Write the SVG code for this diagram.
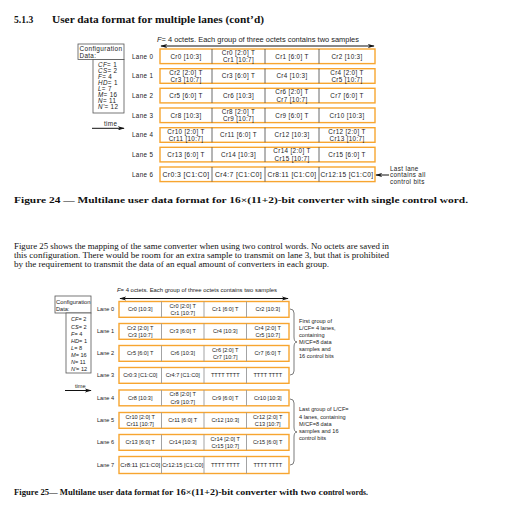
<svg xmlns="http://www.w3.org/2000/svg" width="506" height="508" viewBox="0 0 506 508">
<style>
.sec{font-family:"Liberation Serif","Times New Roman",serif;font-weight:bold;font-size:9.6px;fill:#111}
.cap{font-family:"Liberation Serif","Times New Roman",serif;font-weight:bold;font-size:9.2px;fill:#111}
.para{font-family:"Liberation Serif","Times New Roman",serif;font-size:7.4px;fill:#111}
.a{font-family:"Liberation Sans",Arial,sans-serif;font-size:6.3px;letter-spacing:0.35px;fill:#222}
.b{font-family:"Liberation Sans",Arial,sans-serif;font-size:5.6px;fill:#222}
.m{text-anchor:middle}
.ob{fill:#fff;stroke:#f7a530;stroke-width:1.4}
.d24{stroke:#444;stroke-width:0.8}
.d25{stroke:#999;stroke-width:0.9}
.cfg{fill:#fff;stroke:#555;stroke-width:0.8}
.ln{stroke:#111;stroke-width:1;fill:none}
.br{stroke:#444;stroke-width:0.7;fill:none}
.i{font-style:italic}
</style>
<defs>
<marker id="ah" viewBox="0 0 10 6" refX="9" refY="3" markerWidth="7" markerHeight="4.2" orient="auto-start-reverse" markerUnits="userSpaceOnUse">
<path d="M0,0 L10,3 L0,6 L3,3 Z" fill="#111"/>
</marker>
</defs>
<rect width="506" height="508" fill="#fff"/>

<text class="sec" x="14" y="23">5.1.3</text>
<text class="sec" x="52" y="23" textLength="212" lengthAdjust="spacingAndGlyphs">User data format for multiple lanes (cont’d)</text>

<!-- Figure 24 -->
<g id="fig24-header">
<text class="a" x="157" y="42" textLength="202" lengthAdjust="spacingAndGlyphs" style="letter-spacing:0"><tspan class="i">F</tspan>= 4 octets. Each group of three octets contains two samples</text>
</g>
<g id="fig24-config">
<rect class="cfg" x="78" y="44" width="46" height="15.5"/>
<text class="a" x="79.5" y="51.3" textLength="43" lengthAdjust="spacingAndGlyphs">Configuration</text>
<text class="a" x="79.5" y="58">Data:</text>
<rect class="cfg" x="93" y="59.5" width="31" height="53.5"/>
<text class="a" x="98" y="66.6"><tspan class="i">CF</tspan>= 1</text>
<text class="a" x="98" y="72.6"><tspan class="i">CS</tspan>= 2</text>
<text class="a" x="98" y="78.6"><tspan class="i">F</tspan>= 4</text>
<text class="a" x="98" y="84.6"><tspan class="i">HD</tspan>= 1</text>
<text class="a" x="98" y="91.2"><tspan class="i">L</tspan>= 7</text>
<text class="a" x="98" y="97.3"><tspan class="i">M</tspan>= 16</text>
<text class="a" x="98" y="103.3"><tspan class="i">N</tspan>= 11</text>
<text class="a" x="98" y="109.3"><tspan class="i">N'</tspan>= 12</text>
</g>
<g id="fig24-time">
<text class="a" x="104" y="126">time</text>
</g>

<g id="fig24-lane0">
<text class="a" x="132" y="58.5">Lane 0</text>
<rect class="ob" x="160" y="49" width="215" height="14.6"/>
<line class="d24" x1="212" y1="49" x2="212" y2="63.6"/><line class="d24" x1="265" y1="49" x2="265" y2="63.6"/><line class="d24" x1="319" y1="49" x2="319" y2="63.6"/>
<text class="a m" x="186" y="58.5">Cr0 [10:3]</text>
<text class="a m" x="238.5" y="54.8">Cr0 [2:0] T</text><text class="a m" x="238.5" y="62.2">Cr1 [10:7]</text>
<text class="a m" x="292" y="58.5">Cr1 [6:0] T</text>
<text class="a m" x="347" y="58.5">Cr2 [10:3]</text>
</g>
<g id="fig24-lane1">
<text class="a" x="132" y="78.2">Lane 1</text>
<rect class="ob" x="160" y="68.7" width="215" height="14.6"/>
<line class="d24" x1="212" y1="68.7" x2="212" y2="83.3"/><line class="d24" x1="265" y1="68.7" x2="265" y2="83.3"/><line class="d24" x1="319" y1="68.7" x2="319" y2="83.3"/>
<text class="a m" x="186" y="74.5">Cr2 [2:0] T</text><text class="a m" x="186" y="81.9">Cr3 [10:7]</text>
<text class="a m" x="238.5" y="78.2">Cr3 [6:0] T</text>
<text class="a m" x="292" y="78.2">Cr4 [10:3]</text>
<text class="a m" x="347" y="74.5">Cr4 [2:0] T</text><text class="a m" x="347" y="81.9">Cr5 [10:7]</text>
</g>
<g id="fig24-lane2">
<text class="a" x="132" y="97.8">Lane 2</text>
<rect class="ob" x="160" y="88.3" width="215" height="14.6"/>
<line class="d24" x1="212" y1="88.3" x2="212" y2="102.9"/><line class="d24" x1="265" y1="88.3" x2="265" y2="102.9"/><line class="d24" x1="319" y1="88.3" x2="319" y2="102.9"/>
<text class="a m" x="186" y="97.8">Cr5 [6:0] T</text>
<text class="a m" x="238.5" y="97.8">Cr6 [10:3]</text>
<text class="a m" x="292" y="94.1">Cr6 [2:0] T</text><text class="a m" x="292" y="101.5">Cr7 [10:7]</text>
<text class="a m" x="347" y="97.8">Cr7 [6:0] T</text>
</g>
<g id="fig24-lane3">
<text class="a" x="132" y="117.5">Lane 3</text>
<rect class="ob" x="160" y="108" width="215" height="14.6"/>
<line class="d24" x1="212" y1="108" x2="212" y2="122.6"/><line class="d24" x1="265" y1="108" x2="265" y2="122.6"/><line class="d24" x1="319" y1="108" x2="319" y2="122.6"/>
<text class="a m" x="186" y="117.5">Cr8 [10:3]</text>
<text class="a m" x="238.5" y="113.8">Cr8 [2:0] T</text><text class="a m" x="238.5" y="121.2">Cr9 [10:7]</text>
<text class="a m" x="292" y="117.5">Cr9 [6:0] T</text>
<text class="a m" x="347" y="117.5">Cr10 [10:3]</text>
</g>
<g id="fig24-lane4">
<text class="a" x="132" y="137.2">Lane 4</text>
<rect class="ob" x="160" y="127.7" width="215" height="14.6"/>
<line class="d24" x1="212" y1="127.7" x2="212" y2="142.3"/><line class="d24" x1="265" y1="127.7" x2="265" y2="142.3"/><line class="d24" x1="319" y1="127.7" x2="319" y2="142.3"/>
<text class="a m" x="186" y="133.5">Cr10 [2:0] T</text><text class="a m" x="186" y="140.9">Cr11 [10:7]</text>
<text class="a m" x="238.5" y="137.2">Cr11 [6:0] T</text>
<text class="a m" x="292" y="137.2">Cr12 [10:3]</text>
<text class="a m" x="347" y="133.5">Cr12 [2:0] T</text><text class="a m" x="347" y="140.9">Cr13 [10:7]</text>
</g>
<g id="fig24-lane5">
<text class="a" x="132" y="156.8">Lane 5</text>
<rect class="ob" x="160" y="147.3" width="215" height="14.6"/>
<line class="d24" x1="212" y1="147.3" x2="212" y2="161.9"/><line class="d24" x1="265" y1="147.3" x2="265" y2="161.9"/><line class="d24" x1="319" y1="147.3" x2="319" y2="161.9"/>
<text class="a m" x="186" y="156.8">Cr13 [6:0] T</text>
<text class="a m" x="238.5" y="156.8">Cr14 [10:3]</text>
<text class="a m" x="292" y="153.1">Cr14 [2:0] T</text><text class="a m" x="292" y="160.5">Cr15 [10:7]</text>
<text class="a m" x="347" y="156.8">Cr15 [6:0] T</text>
</g>
<g id="fig24-lane6">
<text class="a" x="132" y="176.5">Lane 6</text>
<rect class="ob" x="160" y="167" width="215" height="14.6"/>
<line class="d24" x1="212" y1="167" x2="212" y2="181.6"/><line class="d24" x1="265" y1="167" x2="265" y2="181.6"/><line class="d24" x1="319" y1="167" x2="319" y2="181.6"/>
<text class="a m" x="186" y="176.5" textLength="47" lengthAdjust="spacingAndGlyphs">Cr0:3 [C1:C0]</text>
<text class="a m" x="238.5" y="176.5" textLength="47" lengthAdjust="spacingAndGlyphs">Cr4:7 [C1:C0]</text>
<text class="a m" x="292" y="176.5" textLength="49" lengthAdjust="spacingAndGlyphs">Cr8:11 [C1:C0]</text>
<text class="a m" x="347" y="176.5" textLength="53" lengthAdjust="spacingAndGlyphs">Cr12:15 [C1:C0]</text>
</g>
<g id="fig24-note">
<text class="a" x="390" y="170.5">Last  lane</text>
<text class="a" x="390" y="177">contains all</text>
<text class="a" x="390" y="183.5">control bits</text>
</g>

<g id="connectors">
<line class="ln" x1="161" y1="46" x2="374" y2="46" marker-start="url(#ah)" marker-end="url(#ah)"/>
<line class="ln" x1="92" y1="128.3" x2="124" y2="128.3" marker-end="url(#ah)"/>
<line class="ln" x1="389" y1="175" x2="376" y2="175" marker-end="url(#ah)"/>
<line class="ln" x1="120" y1="298.5" x2="288" y2="298.5" marker-start="url(#ah)" marker-end="url(#ah)"/>
<line class="ln" x1="65" y1="390.5" x2="91" y2="390.5" marker-end="url(#ah)"/>
<path class="br" d="M290,309 q4,0 4,4 v24 q0,5 3,5 q-3,0 -3,5 v24 q0,4 -4,4"/>
<path class="br" d="M290,399 q4,0 4,4 v24 q0,5 3,5 q-3,0 -3,5 v24 q0,4 -4,4"/>
</g>

<text class="cap" x="14" y="203" textLength="454" lengthAdjust="spacingAndGlyphs">Figure 24 — Multilane user data format for 16×(11+2)-bit converter with single control word.</text>

<text class="para" x="14" y="249" textLength="375" lengthAdjust="spacingAndGlyphs">Figure 25 shows the mapping of the same converter when using two control words. No octets are saved in</text>
<text class="para" x="14" y="258" textLength="375" lengthAdjust="spacingAndGlyphs">this configuration. There would be room for an extra sample to transmit on lane 3, but that is prohibited</text>
<text class="para" x="14" y="267" textLength="315" lengthAdjust="spacingAndGlyphs">by the requirement to transmit the data of an equal amount of converters in each group.</text>

<!-- Figure 25 -->
<g id="fig25-header">
<text class="b" x="117" y="292" textLength="160" lengthAdjust="spacingAndGlyphs"><tspan class="i">F</tspan>= 4 octets. Each group of three octets contains two samples</text>
</g>
<g id="fig25-config">
<rect class="cfg" x="55" y="296" width="36" height="17"/>
<text class="b" x="56" y="304" textLength="34.5" lengthAdjust="spacingAndGlyphs">Configuration</text>
<text class="b" x="56" y="311">Data:</text>
<rect class="cfg" x="66" y="313" width="25" height="60"/>
<text class="b" x="71" y="321"><tspan class="i">CF</tspan>= 2</text>
<text class="b" x="71" y="328.7"><tspan class="i">CS</tspan>= 2</text>
<text class="b" x="71" y="336"><tspan class="i">F</tspan>= 4</text>
<text class="b" x="71" y="343"><tspan class="i">HD</tspan>= 1</text>
<text class="b" x="71" y="350"><tspan class="i">L</tspan>= 8</text>
<text class="b" x="71" y="357"><tspan class="i">M</tspan>= 16</text>
<text class="b" x="71" y="364"><tspan class="i">N</tspan>= 11</text>
<text class="b" x="71" y="370.5"><tspan class="i">N'</tspan>= 12</text>
</g>
<g id="fig25-time">
<text class="b" x="75" y="387.5">time</text>
</g>

<g id="fig25-lane0">
<text class="b" x="97" y="311.4">Lane 0</text>
<rect class="ob" x="119" y="301.5" width="170" height="15.8"/>
<line class="d25" x1="161.5" y1="301.5" x2="161.5" y2="317.3"/><line class="d25" x1="204" y1="301.5" x2="204" y2="317.3"/><line class="d25" x1="246.5" y1="301.5" x2="246.5" y2="317.3"/>
<text class="b m" x="140.25" y="311.4">Cr0 [10:3]</text>
<text class="b m" x="182.75" y="307.8">Cr0 [2:0] T</text><text class="b m" x="182.75" y="315">Cr1 [10:7]</text>
<text class="b m" x="225.25" y="311.4">Cr1 [6:0] T</text>
<text class="b m" x="267.75" y="311.4">Cr2 [10:3]</text>
</g>
<g id="fig25-lane1">
<text class="b" x="97" y="333.4">Lane 1</text>
<rect class="ob" x="119" y="323.5" width="170" height="15.8"/>
<line class="d25" x1="161.5" y1="323.5" x2="161.5" y2="339.3"/><line class="d25" x1="204" y1="323.5" x2="204" y2="339.3"/><line class="d25" x1="246.5" y1="323.5" x2="246.5" y2="339.3"/>
<text class="b m" x="140.25" y="329.8">Cr2 [2:0] T</text><text class="b m" x="140.25" y="337">Cr3 [10:7]</text>
<text class="b m" x="182.75" y="333.4">Cr3 [6:0] T</text>
<text class="b m" x="225.25" y="333.4">Cr4 [10:3]</text>
<text class="b m" x="267.75" y="329.8">Cr4 [2:0] T</text><text class="b m" x="267.75" y="337">Cr5 [10:7]</text>
</g>
<g id="fig25-lane2">
<text class="b" x="97" y="355.4">Lane 2</text>
<rect class="ob" x="119" y="345.5" width="170" height="15.8"/>
<line class="d25" x1="161.5" y1="345.5" x2="161.5" y2="361.3"/><line class="d25" x1="204" y1="345.5" x2="204" y2="361.3"/><line class="d25" x1="246.5" y1="345.5" x2="246.5" y2="361.3"/>
<text class="b m" x="140.25" y="355.4">Cr5 [6:0] T</text>
<text class="b m" x="182.75" y="355.4">Cr6 [10:3]</text>
<text class="b m" x="225.25" y="351.8">Cr6 [2:0] T</text><text class="b m" x="225.25" y="359">Cr7 [10:7]</text>
<text class="b m" x="267.75" y="355.4">Cr7 [6:0] T</text>
</g>
<g id="fig25-lane3">
<text class="b" x="97" y="377.4">Lane 3</text>
<rect class="ob" x="119" y="367.5" width="170" height="15.8"/>
<line class="d25" x1="161.5" y1="367.5" x2="161.5" y2="383.3"/><line class="d25" x1="204" y1="367.5" x2="204" y2="383.3"/><line class="d25" x1="246.5" y1="367.5" x2="246.5" y2="383.3"/>
<text class="b m" x="140.25" y="377.4">Cr0:3 [C1:C0]</text>
<text class="b m" x="182.75" y="377.4">Cr4:7 [C1:C0]</text>
<text class="b m" x="225.25" y="377.4">TTTT TTTT</text>
<text class="b m" x="267.75" y="377.4">TTTT TTTT</text>
</g>
<g id="fig25-lane4">
<text class="b" x="97" y="399.9">Lane 4</text>
<rect class="ob" x="119" y="390" width="170" height="15.8"/>
<line class="d25" x1="161.5" y1="390" x2="161.5" y2="405.8"/><line class="d25" x1="204" y1="390" x2="204" y2="405.8"/><line class="d25" x1="246.5" y1="390" x2="246.5" y2="405.8"/>
<text class="b m" x="140.25" y="399.9">Cr8 [10:3]</text>
<text class="b m" x="182.75" y="396.3">Cr8 [2:0] T</text><text class="b m" x="182.75" y="403.5">Cr9 [10:7]</text>
<text class="b m" x="225.25" y="399.9">Cr9 [6:0] T</text>
<text class="b m" x="267.75" y="399.9">Cr10 [10:3]</text>
</g>
<g id="fig25-lane5">
<text class="b" x="97" y="422.4">Lane 5</text>
<rect class="ob" x="119" y="412.5" width="170" height="15.8"/>
<line class="d25" x1="161.5" y1="412.5" x2="161.5" y2="428.3"/><line class="d25" x1="204" y1="412.5" x2="204" y2="428.3"/><line class="d25" x1="246.5" y1="412.5" x2="246.5" y2="428.3"/>
<text class="b m" x="140.25" y="418.8">Cr10 [2:0] T</text><text class="b m" x="140.25" y="426">Cr11 [10:7]</text>
<text class="b m" x="182.75" y="422.4">Cr11 [6:0] T</text>
<text class="b m" x="225.25" y="422.4">Cr12 [10:3]</text>
<text class="b m" x="267.75" y="418.8">Cr12 [2:0] T</text><text class="b m" x="267.75" y="426">C13 [10:7]</text>
</g>
<g id="fig25-lane6">
<text class="b" x="97" y="444.4">Lane 6</text>
<rect class="ob" x="119" y="434.5" width="170" height="15.8"/>
<line class="d25" x1="161.5" y1="434.5" x2="161.5" y2="450.3"/><line class="d25" x1="204" y1="434.5" x2="204" y2="450.3"/><line class="d25" x1="246.5" y1="434.5" x2="246.5" y2="450.3"/>
<text class="b m" x="140.25" y="444.4">Cr13 [6:0] T</text>
<text class="b m" x="182.75" y="444.4">Cr14 [10:3]</text>
<text class="b m" x="225.25" y="440.8">Cr14 [2:0] T</text><text class="b m" x="225.25" y="448">Cr15 [10:7]</text>
<text class="b m" x="267.75" y="444.4">Cr15 [6:0] T</text>
</g>
<g id="fig25-lane7">
<text class="b" x="97" y="467">Lane 7</text>
<rect class="ob" x="119" y="456.5" width="170" height="17"/>
<line class="d25" x1="161.5" y1="456.5" x2="161.5" y2="473.5"/><line class="d25" x1="204" y1="456.5" x2="204" y2="473.5"/><line class="d25" x1="246.5" y1="456.5" x2="246.5" y2="473.5"/>
<text class="b m" x="140.25" y="467" textLength="40" lengthAdjust="spacingAndGlyphs">Cr8:11 [C1:C0]</text>
<text class="b m" x="182.75" y="467" textLength="41" lengthAdjust="spacingAndGlyphs">Cr12:15 [C1:C0]</text>
<text class="b m" x="225.25" y="467">TTTT TTTT</text>
<text class="b m" x="267.75" y="467">TTTT TTTT</text>
</g>
<g id="fig25-note1">
<text class="b" x="299" y="322.7">First group of</text>
<text class="b" x="299" y="329.7">L/CF= 4 lanes,</text>
<text class="b" x="299" y="336.5">containing</text>
<text class="b" x="299" y="343.7">M/CF=8 data</text>
<text class="b" x="299" y="351">samples and</text>
<text class="b" x="299" y="358">16 control bits</text>
</g>
<g id="fig25-note2">
<text class="b" x="299" y="411.3">Last  group of L/CF=</text>
<text class="b" x="299" y="418.8">4 lanes, containing</text>
<text class="b" x="299" y="426">M/CF=8 data</text>
<text class="b" x="299" y="433.3">samples and 16</text>
<text class="b" x="299" y="440.3">control bits</text>
</g>

<text class="cap" x="14" y="495" textLength="155" lengthAdjust="spacingAndGlyphs">Figure 25— Multilane user data format fo</text>
<text class="cap" x="169" y="495" textLength="159" lengthAdjust="spacingAndGlyphs">r 16×(11+2)-bit converter with two co</text>
<text class="cap" x="328" y="495" textLength="40" lengthAdjust="spacingAndGlyphs">ntrol words.</text>
</svg>
